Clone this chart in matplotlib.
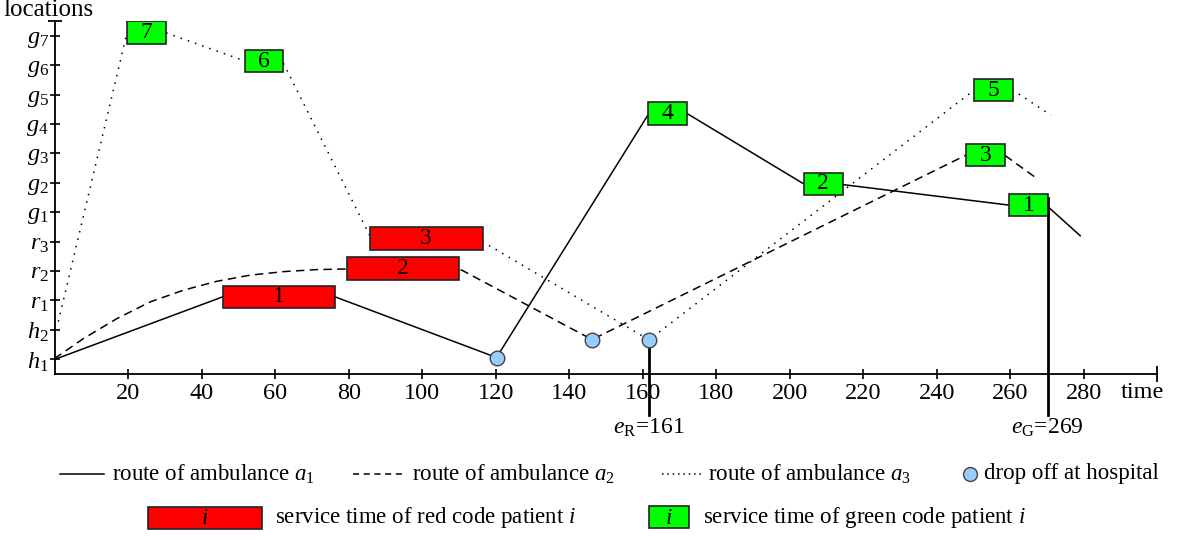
import matplotlib
matplotlib.use("Agg")
import matplotlib.pyplot as plt
from matplotlib.lines import Line2D
from matplotlib.patches import Rectangle

plt.rcParams['font.family'] = ['Liberation Serif', 'DejaVu Serif']
plt.rcParams['mathtext.fontset'] = 'custom'
plt.rcParams['mathtext.rm'] = 'Liberation Serif'
plt.rcParams['mathtext.it'] = 'Liberation Serif:italic'

# location axis (index 0 = h1 ... 11 = g7)
locations = [r'$h_1$', r'$h_2$', r'$r_1$', r'$r_2$', r'$r_3$', r'$g_1$',
             r'$g_2$', r'$g_3$', r'$g_4$', r'$g_5$', r'$g_6$', r'$g_7$']
time_ticks = [20, 40, 60, 80, 100, 120, 140, 160, 180, 200, 220, 240, 260, 280]

# routes (time, location)
a1_t = [0, 45.6, 76.3, 120.2, 161.4, 172.0, 203.6, 214.4, 259.8, 270.2, 279.1]
a1_y = [0, 2.12, 2.12, 0.06, 8.30, 8.36, 5.98, 5.94, 5.24, 5.20, 4.20]

a2_t = [0, 0.5, 7.7, 16.8, 25.9, 35.0, 44.0, 53.1, 62.2, 71.3, 79.5, 110.0,
        146.2, 248.0, 258.5, 266.6]
a2_y = [0, 0.08, 0.70, 1.38, 1.95, 2.35, 2.65, 2.86, 2.98, 3.05, 3.07, 3.08,
        0.67, 6.94, 6.94, 6.21]

a3_t = [0.9, 19.6, 30.2, 51.7, 62.2, 85.7, 116.4, 161.7, 250.2, 260.8, 271.1]
a3_y = [1.28, 11.10, 11.10, 10.14, 10.06, 4.20, 4.00, 0.66, 9.15, 9.15, 8.30]

# service boxes
red_ids = [1, 2, 3]
red_start = [45.6, 79.5, 85.7]
red_end = [76.3, 110.0, 116.4]
red_loc = [2.12, 3.08, 4.10]

green_ids = [1, 2, 3, 4, 5, 6, 7]
green_start = [259.8, 203.8, 248.0, 161.4, 250.2, 51.7, 19.6]
green_end = [270.2, 214.4, 258.5, 172.0, 260.8, 62.2, 30.2]
green_loc = [5.24, 5.96, 6.94, 8.36, 9.15, 10.14, 11.10]

# drop offs at hospital
drop_t = [120.2, 146.2, 161.7]
drop_y = [0.06, 0.67, 0.66]

# deadlines
dead_t = [161.7, 270.2]
dead_top = [0.66, 5.48]
dead_labels = [r'$e_{\mathrm{R}}$=161', r'$e_{\mathrm{G}}$=269']

W, H = 1177, 541
fig = plt.figure(figsize=(W / 100, H / 100), dpi=100)
ax = fig.add_axes([55 / W, 1 - 374 / H, (1157 - 55) / W, (374 - 21) / H])
ax.set_xlim(0, 300)
ax.set_ylim(-0.5, 11.5)

lw = 1.1
dashed = (0, (5.5, 3.5))
dotted = (0, (1.0, 4.0))
ax.plot(a1_t, a1_y, color='black', lw=lw, zorder=2)
ax.plot(a2_t, a2_y, color='black', lw=lw, linestyle=dashed, zorder=2)
ax.plot(a3_t, a3_y, color='black', lw=lw, linestyle=dotted, zorder=2)

bh = 0.77
for i, s, e, y in zip(red_ids, red_start, red_end, red_loc):
    ax.add_patch(Rectangle((s, y - bh / 2), e - s, bh, facecolor='#ff0000',
                           edgecolor='#222222', lw=1.2, zorder=3))
    ax.text((s + e) / 2, y, str(i), ha='center', va='center', fontsize=17, zorder=4)
for i, s, e, y in zip(green_ids, green_start, green_end, green_loc):
    ax.add_patch(Rectangle((s, y - bh / 2), e - s, bh, facecolor='#00ff00',
                           edgecolor='#222222', lw=1.2, zorder=3))
    ax.text((s + e) / 2, y, str(i), ha='center', va='center', fontsize=17, zorder=4)

ax.scatter(drop_t, drop_y, s=110, facecolor='#99ccff', edgecolor='#444444',
           linewidth=1.0, zorder=5)

for t, top, lab in zip(dead_t, dead_top, dead_labels):
    ax.plot([t, t], [top, -1.9], color='black', lw=2.0, clip_on=False, zorder=4)
    ax.text(t, -1.95, lab, ha='center', va='top', fontsize=17)

for side in ['top', 'right']:
    ax.spines[side].set_visible(False)
for side in ['left', 'bottom']:
    ax.spines[side].set_linewidth(1.3)
ax.set_xticks(time_ticks)
ax.set_yticks(range(len(locations)))
ax.set_yticklabels(locations)
ax.tick_params(axis='both', direction='inout', length=7, width=1.2, labelsize=17.5)
ax.tick_params(axis='x', pad=3)
ax.tick_params(axis='y', pad=1)
# end bars of the axes
ax.plot([300], [-0.5], marker='|', markersize=12, mew=1.3, color='black', clip_on=False)
ax.plot([0], [11.5], marker='_', markersize=10, mew=1.3, color='black', clip_on=False)

fig.text(3 / W, 1 - 10 / H, 'locations', ha='left', va='center', fontsize=18)
fig.text(1121 / W, 1 - 393 / H, 'time', ha='left', va='center', fontsize=17.5)

# legend, drawn by hand
def fx(x):
    return x / W


def fy(y):
    return 1 - y / H


row1, row2 = 474, 518
fs = 16.5
fig.add_artist(Line2D([fx(60), fx(104)], [fy(row1), fy(row1)], color='black', lw=lw))
fig.text(fx(112), fy(row1), r'route of ambulance $a_1$', va='center', fontsize=fs)
fig.add_artist(Line2D([fx(353), fx(405)], [fy(row1), fy(row1)], color='black', lw=lw,
                      linestyle=(0, (4, 3))))
fig.text(fx(412), fy(row1), r'route of ambulance $a_2$', va='center', fontsize=fs)
fig.add_artist(Line2D([fx(662), fx(702)], [fy(row1), fy(row1)], color='black', lw=lw,
                      linestyle=(0, (1, 2.5))))
fig.text(fx(708), fy(row1), r'route of ambulance $a_3$', va='center', fontsize=fs)
fig.add_artist(Line2D([fx(970)], [fy(row1)], marker='o', markersize=10,
                      markerfacecolor='#99ccff', markeredgecolor='#444444', mew=1.0))
fig.text(fx(984), fy(row1), 'drop off at hospital', va='center', fontsize=fs)

fig.add_artist(Rectangle((fx(148), fy(529)), fx(262) - fx(148), fy(507) - fy(529),
                         transform=fig.transFigure, facecolor='#ff0000',
                         edgecolor='#222222', lw=1.2))
fig.text(fx(205), fy(row2), r'$i$', ha='center', va='center', fontsize=fs)
fig.text(fx(275), fy(row2), r'service time of red code patient $i$', va='center', fontsize=fs)
fig.add_artist(Rectangle((fx(649), fy(528)), fx(689) - fx(649), fy(506) - fy(528),
                         transform=fig.transFigure, facecolor='#00ff00',
                         edgecolor='#222222', lw=1.2))
fig.text(fx(669), fy(row2), r'$i$', ha='center', va='center', fontsize=fs)
fig.text(fx(703), fy(row2), r'service time of green code patient $i$', va='center', fontsize=fs)

fig.savefig('out.png', dpi=100)
